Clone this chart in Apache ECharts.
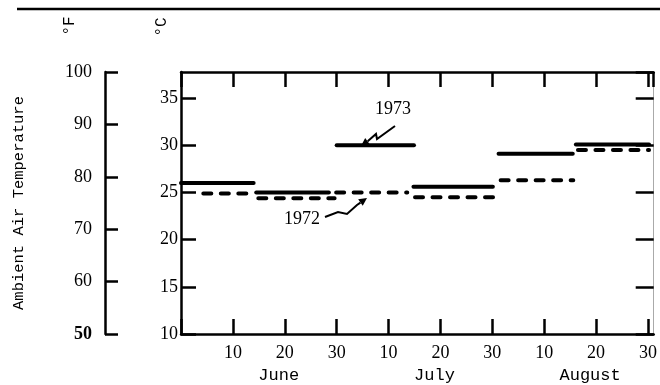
<!DOCTYPE html>
<html>
<head>
<meta charset="utf-8">
<script src="https://cdn.jsdelivr.net/npm/echarts@6/dist/echarts.min.js"></script>
<style>
  html, body { margin: 0; padding: 0; background: #fff; }
  #chart { width: 660px; height: 385px; }
</style>
</head>
<body>
<div id="chart"></div>
<script>
// x = days counted from June 1, a tick every 10 days
var dayTicks = ['10', '20', '30', '10', '20', '30', '10', '20', '30'];
var months = ['June', 'July', 'August'];
var monthTicks = [20, 50, 80];
var cTicks = ['10', '15', '20', '25', '30', '35'];
var fTicks = ['50', '60', '70', '80', '90', '100'];

// 1973, half-month means (solid), deg C
var start1973 = [0, 14.5, 30, 44.8, 61.2, 76.1];
var end1973 = [14, 28.5, 44.9, 60.1, 75.5, 90.2];
var temp1973 = [26.0, 25.0, 30.0, 25.6, 29.1, 30.1];

// 1972, half-month means (dashed), deg C
var start1972 = [4.3, 14.9, 29.9, 45.1, 61.6, 76.5];
var end1972 = [13.6, 29.6, 43.6, 60.3, 75.6, 90.2];
var temp1972 = [24.9, 24.4, 25.0, 24.5, 26.3, 29.5];

var fMin = 50, fMax = 100;
var cMin = 10, cMax = (fMax - 32) * 5 / 9;   // 100 F at the top of the box
var xMax = 91.1;

var numFont = 'Liberation Serif';
var wordFont = 'Liberation Mono';
var black = '#000';

function segs(starts, ends, temps) {
  return temps.map(function (t, i) { return [starts[i], ends[i], t]; });
}

function segRenderer(dash) {
  return function (params, api) {
    var a = api.coord([api.value(0), api.value(2)]);
    var b = api.coord([api.value(1), api.value(2)]);
    return {
      type: 'line',
      shape: { x1: a[0], y1: a[1], x2: b[0], y2: b[1] },
      style: { stroke: black, lineWidth: 4, lineCap: 'round', lineDash: dash }
    };
  };
}

// squiggly pointer with a filled head at the last point
function pointer(pts) {
  var n = pts.length, tip = pts[n - 1], prev = pts[n - 2];
  var dx = tip[0] - prev[0], dy = tip[1] - prev[1];
  var len = Math.sqrt(dx * dx + dy * dy);
  var ux = dx / len, uy = dy / len;
  var bx = tip[0] - ux * 8, by = tip[1] - uy * 8;
  return [
    { type: 'polyline', shape: { points: pts.slice(0, n - 1).concat([[bx, by]]) },
      style: { stroke: black, lineWidth: 2, fill: null } },
    { type: 'polygon', shape: { points: [tip, [bx - uy * 4, by + ux * 4], [bx + uy * 4, by - ux * 4]] },
      style: { fill: black } }
  ];
}

function valueLabel(list, min, step) {
  return function (v) {
    var i = Math.round((v - min) / step);
    if (Math.abs(min + i * step - v) > 1e-6) return '';
    return list[i] || '';
  };
}

var axisLine = { show: true, onZero: false, lineStyle: { color: black, width: 2.5 } };
function ticks(len) {
  return { show: true, inside: true, length: len, lineStyle: { color: black, width: 2.5 } };
}

var chart = echarts.init(document.getElementById('chart'));
var option = {
  animation: false,
  backgroundColor: '#fff',
  grid: { left: 181, right: 1, top: 72, bottom: 51 },
  xAxis: [
    {
      type: 'value', position: 'bottom', min: 0, max: xMax, interval: 10,
      axisLine: axisLine, axisTick: ticks(15),
      axisLabel: {
        margin: 10, color: black, fontFamily: numFont, fontSize: 18, showMaxLabel: false,
        formatter: function (v) { return v === 0 ? '' : (dayTicks[v / 10 - 1] || ''); }
      },
      splitLine: { show: false }
    },
    {
      type: 'value', position: 'top', min: 0, max: xMax, interval: 10,
      axisLine: axisLine, axisTick: ticks(15),
      axisLabel: { show: false },
      splitLine: { show: false }
    },
    {
      type: 'value', position: 'bottom', min: 0, max: xMax, interval: 10,
      axisLine: { show: false, onZero: false }, axisTick: { show: false }, splitLine: { show: false },
      axisLabel: {
        margin: 33, color: black, fontFamily: wordFont, fontSize: 17, padding: [0, 12, 0, 0],
        formatter: function (v) {
          var i = monthTicks.indexOf(v);
          return i < 0 ? '' : months[i];
        }
      }
    }
  ],
  yAxis: [
    {
      type: 'value', position: 'left', min: cMin, max: cMax, interval: 5,
      axisLine: axisLine, axisTick: ticks(15),
      axisLabel: {
        margin: 3, color: black, fontFamily: numFont, fontSize: 18, showMaxLabel: false,
        formatter: valueLabel(cTicks, cMin, 5)
      },
      splitLine: { show: false }
    },
    {
      type: 'value', position: 'left', offset: 76, min: fMin, max: fMax, interval: 10,
      name: 'Ambient Air Temperature', nameLocation: 'middle', nameRotate: 90, nameGap: 78,
      nameTextStyle: { color: black, fontFamily: wordFont, fontSize: 15.5 },
      axisLine: axisLine, axisTick: ticks(13),
      axisLabel: {
        margin: 13, color: black, fontFamily: numFont, fontSize: 18,
        formatter: function (v) {
          var s = valueLabel(fTicks, fMin, 10)(v);
          return v === fMin ? '{b|' + s + '}' : s;
        },
        rich: { b: { fontWeight: 'bold', fontFamily: numFont, fontSize: 18, color: black } }
      },
      splitLine: { show: false }
    },
    {
      type: 'value', position: 'right', min: cMin, max: cMax, interval: 5,
      axisLine: { show: true, onZero: false, lineStyle: { color: '#aaa', width: 1 } },
      axisTick: ticks(18),
      axisLabel: { show: false },
      splitLine: { show: false }
    }
  ],
  series: [
    {
      name: '1973', type: 'custom', xAxisIndex: 0, yAxisIndex: 0,
      renderItem: segRenderer(null), encode: { x: [0, 1], y: 2 },
      data: segs(start1973, end1973, temp1973), clip: false
    },
    {
      name: '1972', type: 'custom', xAxisIndex: 0, yAxisIndex: 0,
      renderItem: segRenderer([8, 9.5]), encode: { x: [0, 1], y: 2 },
      data: segs(start1972, end1972, temp1972), clip: false
    }
  ],
  graphic: [
    { type: 'line', shape: { x1: 17, y1: 9, x2: 660, y2: 9 }, style: { stroke: black, lineWidth: 2.5 } },
    { type: 'text', x: 70, y: 26, rotation: Math.PI / 2,
      style: { text: '°F', fontFamily: wordFont, fontSize: 16, fill: black, align: 'center', verticalAlign: 'middle' } },
    { type: 'text', x: 162, y: 27, rotation: Math.PI / 2,
      style: { text: '°C', fontFamily: wordFont, fontSize: 16, fill: black, align: 'center', verticalAlign: 'middle' } },
    { type: 'text', x: 393, y: 109,
      style: { text: '1973', fontFamily: numFont, fontSize: 18, fill: black, align: 'center', verticalAlign: 'middle' } },
    { type: 'text', x: 302, y: 219,
      style: { text: '1972', fontFamily: numFont, fontSize: 18, fill: black, align: 'center', verticalAlign: 'middle' } }
  ]
    .concat(pointer([[395, 126], [377, 139], [376, 134], [368, 141], [361, 146]]))
    .concat(pointer([[325, 217], [338, 212], [347, 214], [357, 205], [367, 198]]))
};
chart.setOption(option);
</script>
</body>
</html>
